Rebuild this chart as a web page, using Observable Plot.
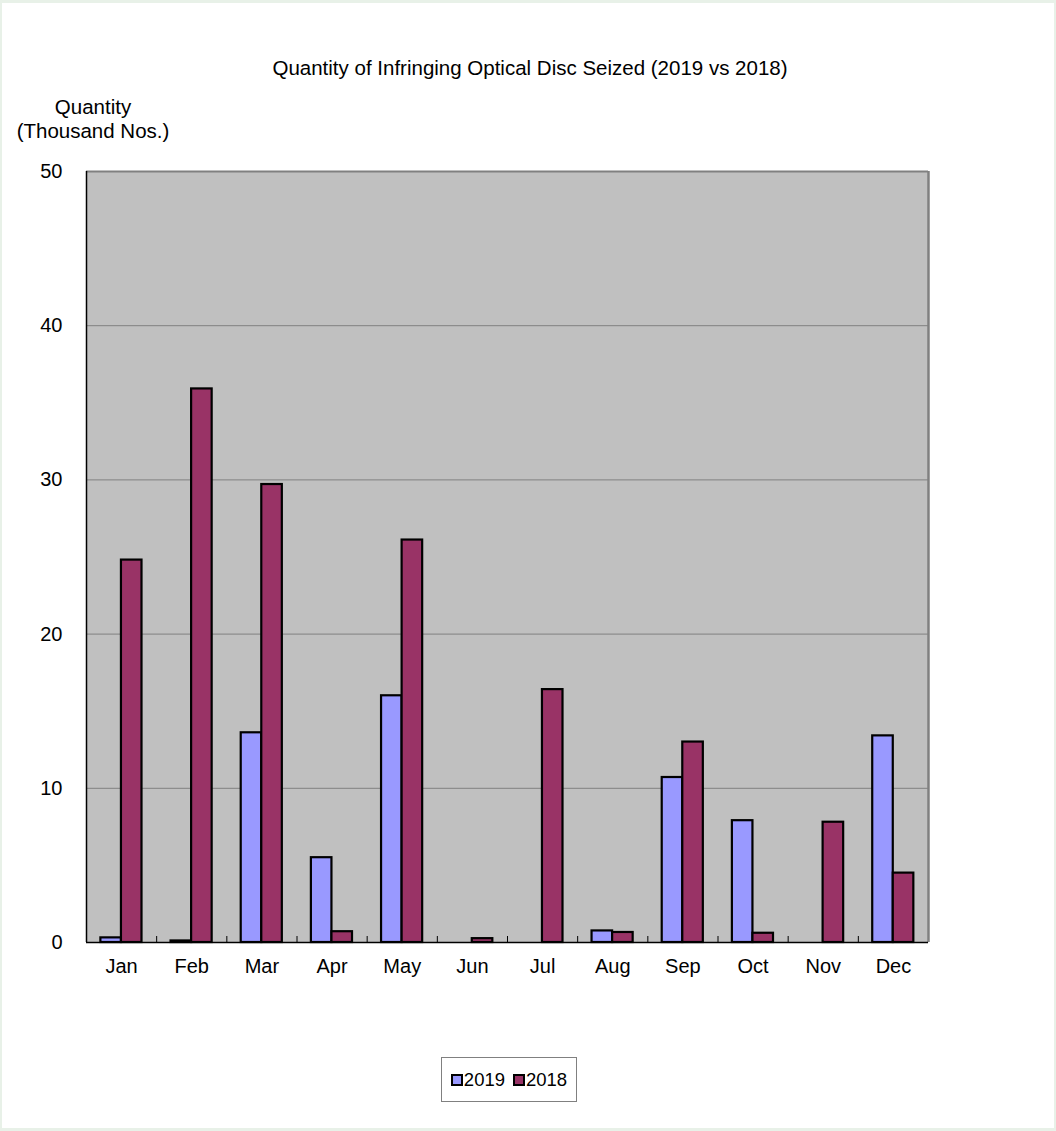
<!DOCTYPE html>
<html>
<head>
<meta charset="utf-8">
<script src="https://cdn.jsdelivr.net/npm/d3@7"></script>
<script src="https://cdn.jsdelivr.net/npm/@observablehq/plot@0.6"></script>
<style>
  html, body { margin: 0; padding: 0; background: #e8f1e8; }
  #page { position: relative; width: 1056px; height: 1131px; font-family: "Liberation Sans", Arial, sans-serif; color: #000; }
  #inner { position: absolute; left: 2px; top: 3px; width: 1052px; height: 1125px; background: #fff; }
  #title { position: absolute; left: 0; top: 56px; width: 1060px; text-align: center; font-size: 20.5px; line-height: 24px; }
  #ylabel { position: absolute; left: 0; top: 95px; width: 186px; text-align: center; font-size: 20.5px; line-height: 24px; }
  #chart { position: absolute; left: 0; top: 150px; }
  #legend { position: absolute; left: 441px; top: 1057px; width: 134px; height: 43px; border: 1px solid #808080; background: #fff;
            display: flex; align-items: center; justify-content: center; font-size: 18.5px; }
  .sw { display: inline-block; width: 8px; height: 8px; border: 2px solid #000; margin-right: 1px; }
  .item { display: flex; align-items: center; margin: 0 4px; }
</style>
</head>
<body>
<div id="page">
  <div id="inner"></div>
  <div id="title">Quantity of Infringing Optical Disc Seized (2019 vs 2018)</div>
  <div id="ylabel">Quantity<br>(Thousand Nos.)</div>
  <div id="chart"></div>
  <div id="legend"></div>
</div>
<script>
const months = ["Jan", "Feb", "Mar", "Apr", "May", "Jun", "Jul", "Aug", "Sep", "Oct", "Nov", "Dec"];
const series = ["2019", "2018"];
const seriesColors = ["#9999ff", "#993366"];
const values2019 = [0.3, 0.1, 13.6, 5.5, 16.0, 0, 0, 0.75, 10.7, 7.9, 0, 13.4];
const values2018 = [24.8, 35.9, 29.7, 0.7, 26.1, 0.25, 16.4, 0.65, 13.0, 0.6, 7.8, 4.5];
const yTicks = [0, 10, 20, 30, 40, 50];

// layout of each month slot (fraction of the slot)
const slotStart = 0.205, barFrac = 0.293;

const rows = [];
months.forEach((m, i) => {
  [values2019, values2018].forEach((vals, s) => {
    rows.push({month: m, idx: i, series: series[s], s, value: vals[i]});
  });
});

const chart = Plot.plot({
  width: 1056,
  height: 840,
  marginTop: 21,
  marginLeft: 86,
  marginRight: 128,
  marginBottom: 48,
  style: {fontFamily: "Liberation Sans, Arial, sans-serif", fontSize: "20px", background: "transparent", color: "#000"},
  x: {domain: [0, months.length], axis: null},
  y: {domain: [0, 50], axis: null},
  color: {domain: series, range: seriesColors},
  marks: [
    Plot.frame({fill: "#c0c0c0", stroke: null}),
    Plot.ruleY(yTicks.slice(1, -1), {stroke: "#808080", strokeWidth: 1}),
    Plot.rectY(rows.filter(d => d.value > 0), {
      x1: d => d.idx + slotStart + d.s * barFrac,
      x2: d => d.idx + slotStart + (d.s + 1) * barFrac,
      y1: 0,
      y2: "value",
      fill: "series",
      stroke: "#000",
      strokeWidth: 2.2
    }),
    Plot.ruleY([50], {stroke: "#808080", strokeWidth: 2}),
    Plot.ruleX([months.length], {stroke: "#808080", strokeWidth: 2.5}),
    Plot.ruleX([0], {stroke: "#000", strokeWidth: 1.5}),
    Plot.ruleY([0], {stroke: "#000", strokeWidth: 1.5}),
    Plot.axisY({ticks: yTicks, tickSize: 0, tickPadding: 24, fontSize: 20, label: null}),
    Plot.axisX({ticks: d3.range(1, months.length), tickSize: -6, tickFormat: () => "", stroke: "#000", label: null}),
    Plot.axisX({ticks: months.map((m, i) => i + 0.5), tickSize: 0, tickPadding: 16, fontSize: 20, label: null,
                tickFormat: d => months[Math.floor(d)]})
  ]
});
document.getElementById("chart").appendChild(chart);

const legend = document.getElementById("legend");
series.forEach((s, i) => {
  const item = document.createElement("span");
  item.className = "item";
  const sw = document.createElement("span");
  sw.className = "sw";
  sw.style.background = seriesColors[i];
  item.appendChild(sw);
  item.appendChild(document.createTextNode(s));
  legend.appendChild(item);
});
</script>
</body>
</html>
